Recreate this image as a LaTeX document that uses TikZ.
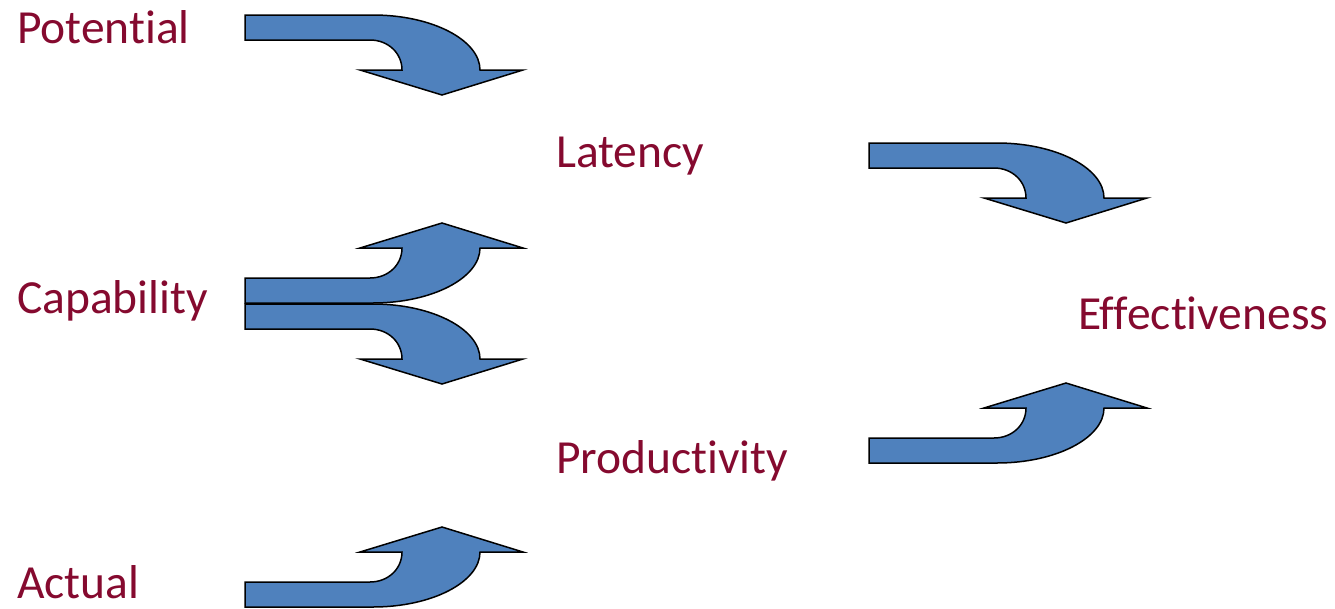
\documentclass[tikz,border=0pt]{standalone}
\usepackage{fontspec}
\setmainfont{Carlito}[Ligatures={NoCommon,NoContextual}]
\usepackage{tikz}
\definecolor{termred}{HTML}{850A2F}
\definecolor{arrowblue}{HTML}{4F81BD}

\begin{document}
\begin{tikzpicture}[
    x=1pt, y=-1pt,
    term/.style={anchor=base west, inner sep=0pt, text=termred, font=\fontsize{47.5}{52}\selectfont},
    bentarrow/.style={fill=arrowblue, draw=black, line width=1.5pt, line join=miter},
    bent/.pic={
        \draw[bentarrow] (0,0) -- (128,0)
            .. controls (187,0) and (235,25) .. (235,55)
            -- (278,55) -- (197,80) -- (115,55) -- (157,55)
            .. controls (157,38) and (143,25) .. (125,25)
            -- (0,25) -- cycle;
    }
]
\useasboundingbox (0,0) rectangle (1335,608);

% terms
\node[term] (potential) at (17,43) {Potential};
\node[term] (capability) at (17,313) {Capability};
\node[term] (actual) at (17,598) {Actual};
\node[term] (latency) at (556,167) {Latency};
\node[term] (productivity) at (556,473) {Productivity};
\node[term] (effectiveness) at (1078,329) {Effectiveness};

% bent block arrows
\pic (potlat) at (245,15) {bent};
\pic[yscale=-1] (caplat) at (245,303) {bent};
\pic (capprod) at (245,304) {bent};
\pic[yscale=-1] (actprod) at (245,607) {bent};
\pic (lateff) at (869,143) {bent};
\pic[yscale=-1] (prodeff) at (869,463) {bent};

\end{tikzpicture}
\end{document}
